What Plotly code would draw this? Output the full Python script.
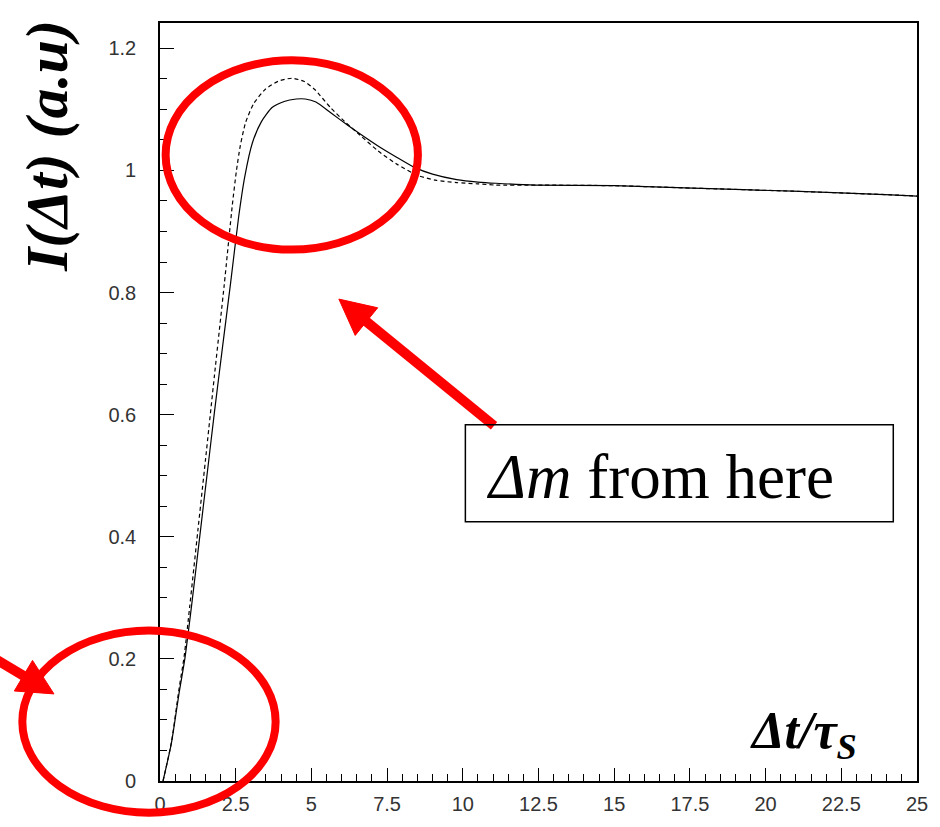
import math
import plotly.graph_objects as go

# Time-difference distribution I(Δt) vs Δt/τ_S for two parameter sets
dt_solid = [0.1, 0.38, 0.63, 0.82, 1.05, 1.3, 1.55, 1.8, 2.05, 2.33, 2.6, 2.8, 3.05,
            3.35, 3.7, 4.1, 4.5, 4.8, 5.15, 5.65, 6.2, 6.6, 7.2, 7.8, 8.4, 9.0, 9.8,
            10.5, 11.1, 12.4, 15.0, 17.6, 20.9, 24.15, 25.0]
i_solid = [0.0, 0.063, 0.144, 0.2, 0.29, 0.395, 0.5, 0.605, 0.705, 0.815, 0.925, 0.99,
           1.045, 1.08, 1.103, 1.113, 1.117, 1.117, 1.112, 1.094, 1.074, 1.060, 1.040,
           1.022, 1.005, 0.994, 0.985, 0.981, 0.979, 0.976, 0.975, 0.971, 0.966, 0.960,
           0.958]

dt_dashed = [0.1, 0.38, 0.62, 0.8, 0.98, 1.25, 1.5, 1.8, 2.12, 2.39, 2.52, 2.65, 2.83,
             3.1, 3.48, 3.9, 4.35, 4.75, 5.1, 5.65, 6.1, 6.6, 7.2, 7.8, 8.5, 9.1, 9.8,
             10.5, 11.1, 12.4, 15.0, 17.6, 20.9, 24.15, 25.0]
i_dashed = [0.0, 0.064, 0.148, 0.205, 0.285, 0.41, 0.525, 0.665, 0.812, 0.944, 0.998,
            1.04, 1.079, 1.11, 1.133, 1.146, 1.151, 1.146, 1.133, 1.102, 1.080, 1.058,
            1.032, 1.011, 0.992, 0.984, 0.980, 0.978, 0.976, 0.976, 0.975, 0.971, 0.966,
            0.960, 0.958]

x_ticks = [0, 2.5, 5, 7.5, 10, 12.5, 15, 17.5, 20, 22.5, 25]
y_ticks = [0, 0.2, 0.4, 0.6, 0.8, 1.0, 1.2]

# page / plot-area geometry (pixels)
W, H = 940, 827
L, R, T, B = 160, 926, 23, 789
PW, PH = R - L, B - T


def px(x):
    return (x - L) / PW


def py(y):
    return (B - y) / PH


RED = "#ff0000"

fig = go.Figure()
fig.add_trace(go.Scatter(x=dt_solid, y=i_solid, mode="lines",
                         line=dict(color="black", width=1.2, shape="spline", smoothing=0.6),
                         showlegend=False))
fig.add_trace(go.Scatter(x=dt_dashed, y=i_dashed, mode="lines",
                         line=dict(color="black", width=1.2, dash="4px,3px",
                                   shape="spline", smoothing=0.6),
                         showlegend=False))

shapes = []


def ellipse(x0, y0, x1, y1):
    shapes.append(dict(type="circle", xref="paper", yref="paper",
                       x0=px(x0), x1=px(x1), y0=py(y1), y1=py(y0),
                       line=dict(color=RED, width=8), layer="above"))


def arrow(tail, tip, head_len=36, half_w=18, width=10):
    dx, dy = tip[0] - tail[0], tip[1] - tail[1]
    n = math.hypot(dx, dy)
    ux, uy = dx / n, dy / n
    mx, my = tip[0] - ux * head_len, tip[1] - uy * head_len
    nx, ny = -uy, ux
    shapes.append(dict(type="line", xref="paper", yref="paper",
                       x0=px(tail[0]), y0=py(tail[1]),
                       x1=px(mx + ux * 4), y1=py(my + uy * 4),
                       line=dict(color=RED, width=width), layer="above"))
    a = (mx + nx * half_w, my + ny * half_w)
    b = (mx - nx * half_w, my - ny * half_w)
    path = "M {:.5f},{:.5f} L {:.5f},{:.5f} L {:.5f},{:.5f} Z".format(
        px(tip[0]), py(tip[1]), px(a[0]), py(a[1]), px(b[0]), py(b[1]))
    shapes.append(dict(type="path", xref="paper", yref="paper", path=path,
                       fillcolor=RED, line=dict(color=RED, width=1), layer="above"))


ellipse(165.7, 60.7, 421, 252)
ellipse(20.7, 637, 277, 821)
arrow((498, 430), (341, 302))
arrow((-6, 666), (52.7, 701))

# text box
shapes.append(dict(type="rect", xref="paper", yref="paper",
                   x0=px(469), x1=px(902), y0=py(527), y1=py(429),
                   line=dict(color="black", width=1.5), fillcolor="rgba(0,0,0,0)",
                   layer="above"))

annotations = [
    dict(text="<i>Δm</i> from here", xref="paper", yref="paper",
         x=px(488), y=py(482), xanchor="left", yanchor="middle", showarrow=False,
         font=dict(family="Liberation Serif", size=63, color="black")),
    dict(text="<b><i>I(Δt) (a.u)</i></b>", xref="paper", yref="paper",
         x=px(45), y=py(147), xanchor="center", yanchor="middle", textangle=-90,
         showarrow=False,
         font=dict(family="Liberation Serif", size=60, color="black")),
    dict(text="<b><i>Δt/τ<sub>S</sub></i></b>", xref="paper", yref="paper",
         x=px(867), y=py(742), xanchor="right", yanchor="middle", showarrow=False,
         font=dict(family="Liberation Serif", size=52, color="black")),
]

tick_font = dict(family="Liberation Sans", size=20, color="#333333")

fig.update_layout(
    width=W, height=H,
    margin=dict(l=L, r=W - R, t=T, b=H - B, pad=0),
    paper_bgcolor="white", plot_bgcolor="white",
    shapes=shapes, annotations=annotations,
    xaxis=dict(range=[0, 25], tickvals=x_ticks, ticktext=[f"{v:g}" for v in x_ticks],
               ticks="inside", ticklen=13, tickwidth=1.3, tickcolor="black",
               minor=dict(dtick=0.5, tick0=0, ticks="inside", ticklen=7,
                          tickwidth=1.1, tickcolor="black"),
               showline=True, linecolor="black", linewidth=1.6, mirror=True,
               showgrid=False, zeroline=False, tickfont=tick_font,
               ticklabelstandoff=4),
    yaxis=dict(range=[0, (B - T) / 617.0], tickvals=y_ticks,
               ticktext=[f"{v:g}" for v in y_ticks],
               ticks="inside", ticklen=14, tickwidth=1.3, tickcolor="black",
               minor=dict(dtick=0.05, tick0=0, ticks="inside", ticklen=7,
                          tickwidth=1.1, tickcolor="black"),
               showline=True, linecolor="black", linewidth=1.6, mirror=True,
               showgrid=False, zeroline=False, tickfont=tick_font,
               ticklabelstandoff=18),
)

fig.write_html(
    "out.html",
    post_script="document.body.style.margin='0';document.body.style.overflow='hidden';",
)
